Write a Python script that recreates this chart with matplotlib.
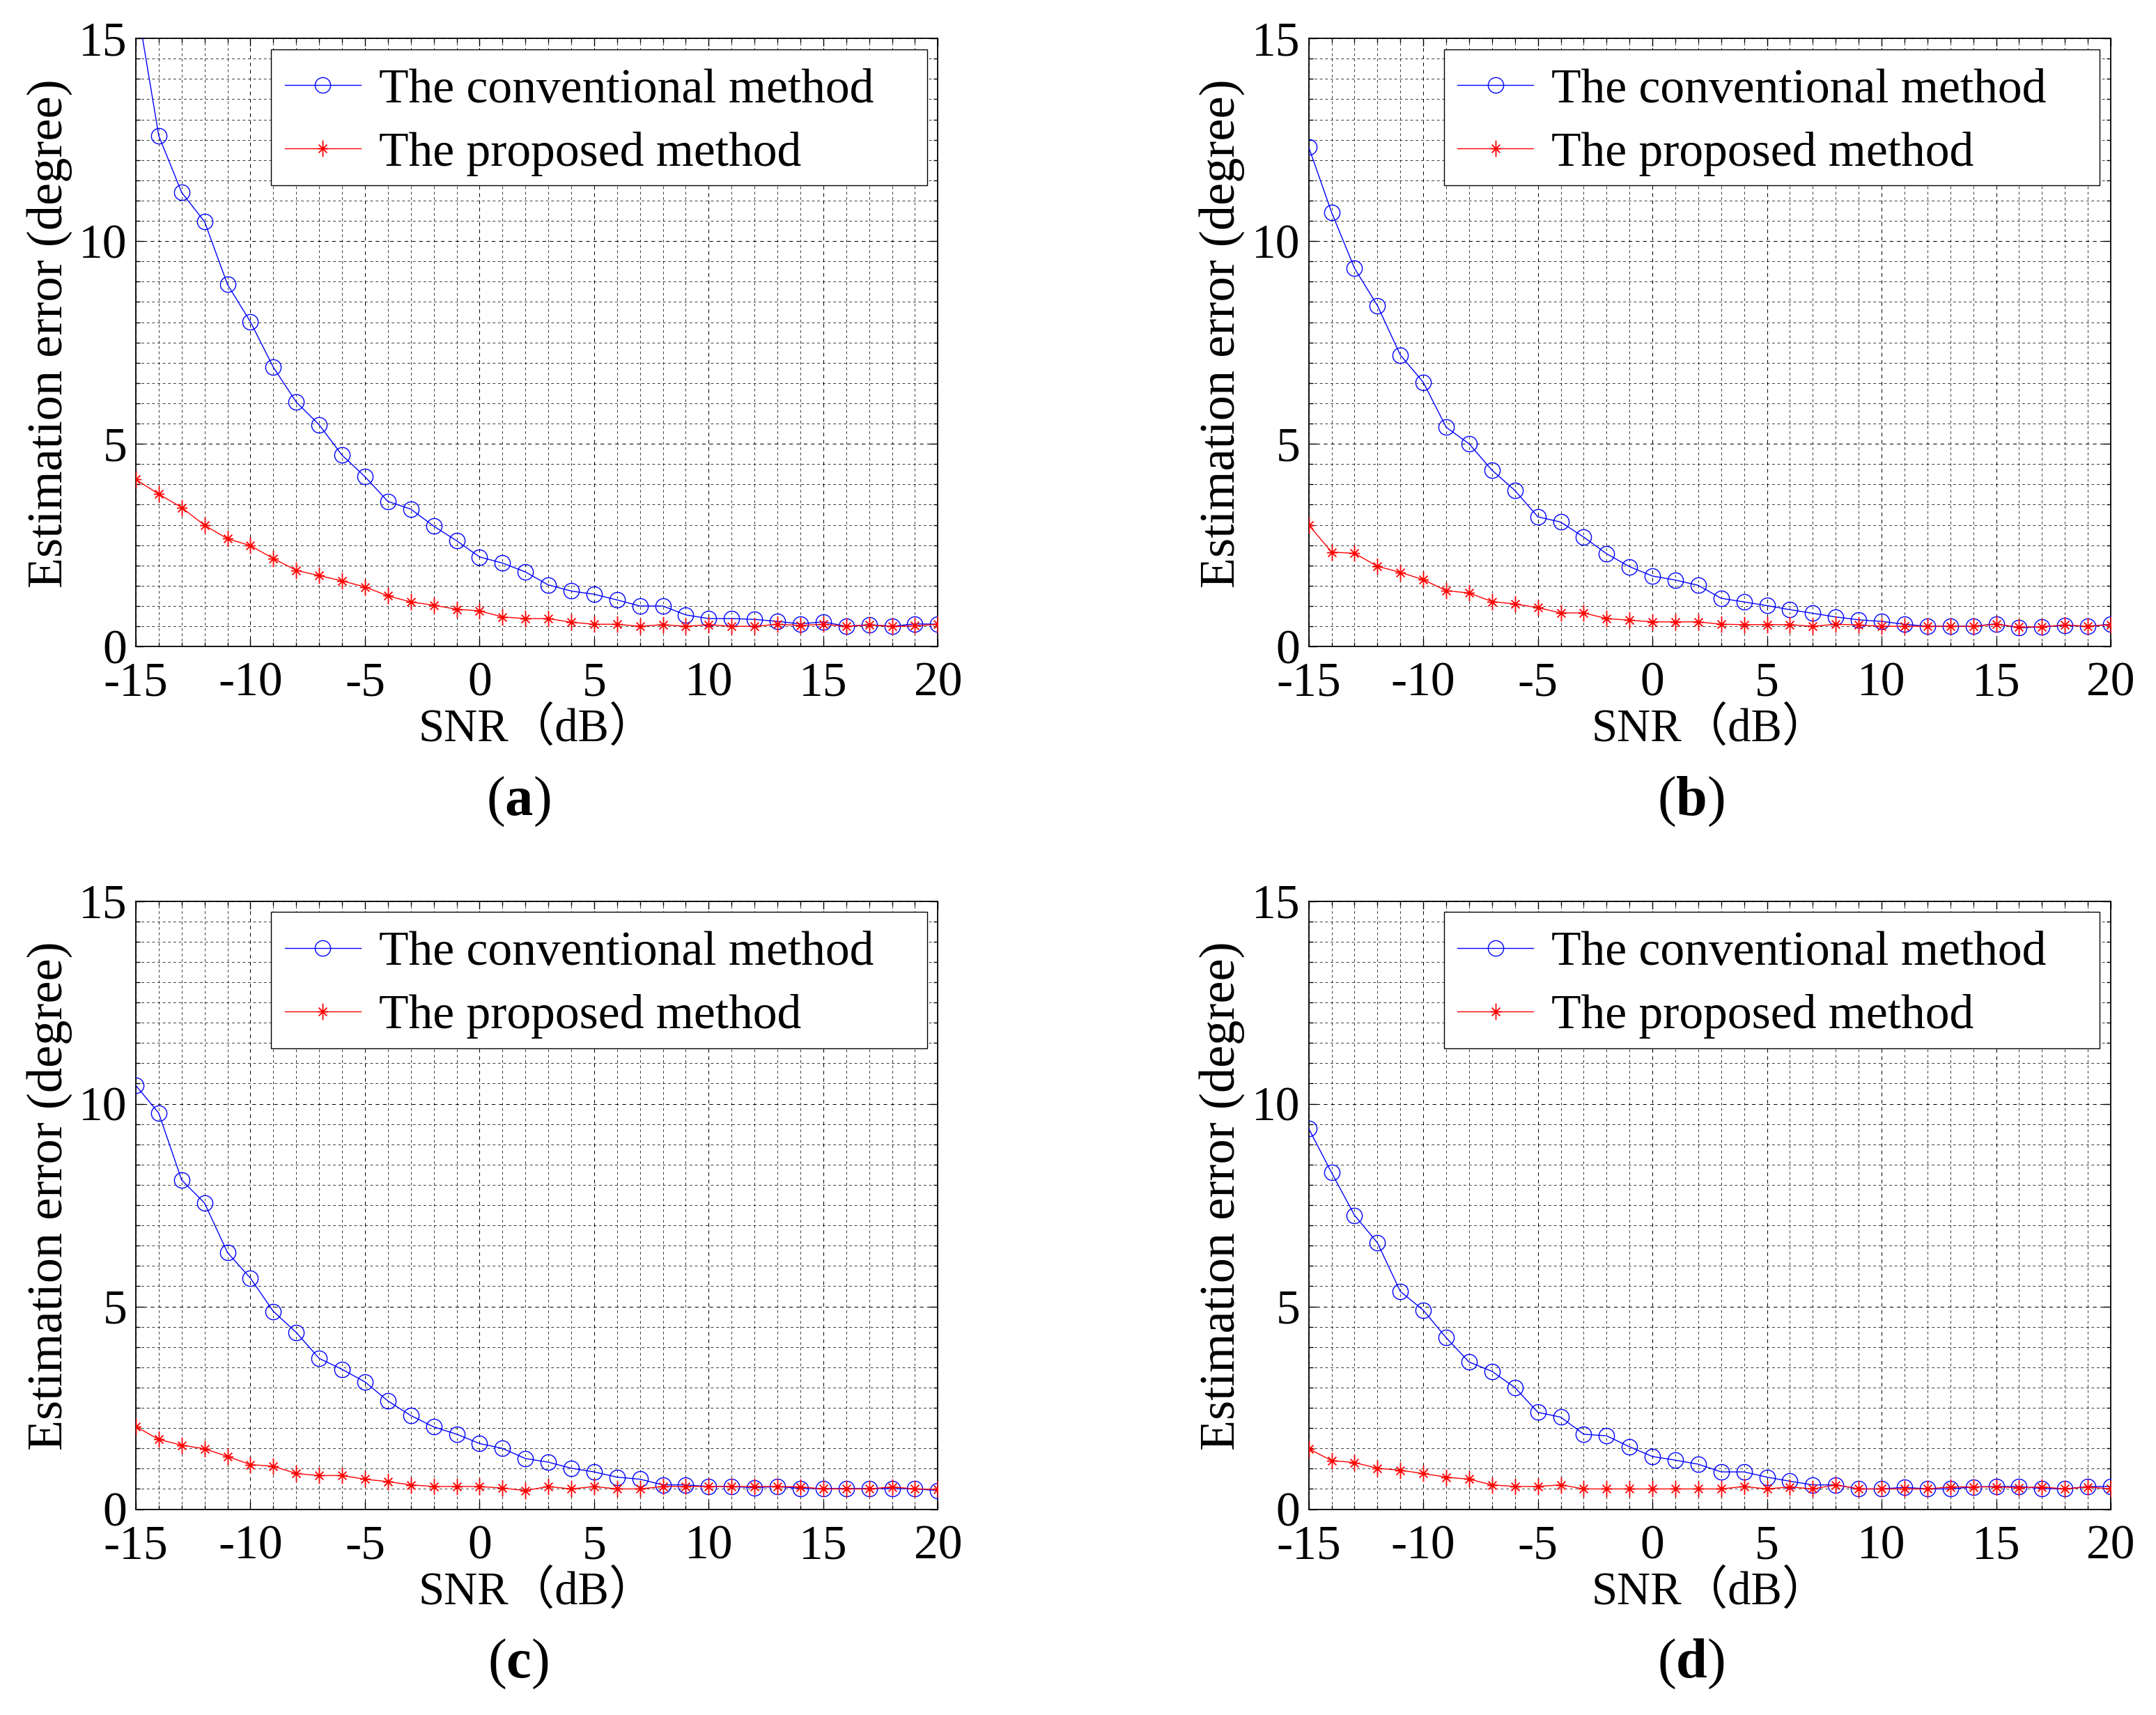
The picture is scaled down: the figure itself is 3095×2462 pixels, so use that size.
"""
Estimation error vs SNR: conventional method vs proposed method, 4 panels
"""

import numpy as np
import matplotlib
matplotlib.use('Agg')
import matplotlib.pyplot as plt
from matplotlib.ticker import MultipleLocator
from matplotlib.path import Path
from matplotlib.patches import Rectangle

plt.rcParams['font.family'] = ['Liberation Serif', 'Noto Sans CJK SC']
plt.rcParams['mathtext.fontset'] = 'custom'
plt.rcParams['mathtext.rm'] = 'Liberation Serif'
plt.rcParams['mathtext.bf'] = 'Liberation Serif:bold'
plt.rcParams['axes.unicode_minus'] = False

# SNR axis (dB)
snr = list(range(-15, 21))

# Panel (a)
conv_a = [16.0, 12.6, 11.2, 10.48, 8.93, 8.01, 6.89, 6.03, 5.47, 4.72, 4.19, 3.58,
          3.39, 2.97, 2.61, 2.21, 2.06, 1.84, 1.52, 1.37, 1.29, 1.15, 1.00, 1.00,
          0.78, 0.69, 0.69, 0.67, 0.62, 0.56, 0.61, 0.50, 0.54, 0.50, 0.56, 0.55]
prop_a = [4.12, 3.76, 3.43, 2.99, 2.66, 2.49, 2.17, 1.88, 1.75, 1.62, 1.47, 1.25,
          1.10, 1.02, 0.92, 0.88, 0.73, 0.69, 0.69, 0.60, 0.55, 0.55, 0.50, 0.54,
          0.50, 0.54, 0.50, 0.50, 0.55, 0.52, 0.55, 0.50, 0.53, 0.50, 0.51, 0.55]

# Panel (b)
conv_b = [12.32, 10.71, 9.33, 8.41, 7.19, 6.52, 5.41, 5.00, 4.35, 3.85, 3.20, 3.07,
          2.70, 2.29, 1.97, 1.74, 1.64, 1.51, 1.19, 1.10, 1.01, 0.91, 0.82, 0.73,
          0.66, 0.62, 0.55, 0.50, 0.50, 0.50, 0.56, 0.46, 0.49, 0.52, 0.50, 0.55]
prop_b = [3.00, 2.33, 2.30, 1.98, 1.83, 1.65, 1.38, 1.32, 1.11, 1.05, 0.96, 0.83,
          0.83, 0.69, 0.65, 0.61, 0.61, 0.61, 0.55, 0.54, 0.54, 0.54, 0.50, 0.55,
          0.53, 0.50, 0.50, 0.50, 0.50, 0.50, 0.55, 0.48, 0.49, 0.53, 0.50, 0.54]

# Panel (c)
conv_c = [10.45, 9.77, 8.12, 7.55, 6.33, 5.70, 4.88, 4.36, 3.72, 3.45, 3.14, 2.67,
          2.31, 2.03, 1.85, 1.62, 1.50, 1.25, 1.16, 1.01, 0.92, 0.79, 0.74, 0.60,
          0.60, 0.56, 0.56, 0.53, 0.56, 0.51, 0.51, 0.51, 0.51, 0.51, 0.50, 0.46]
prop_c = [2.04, 1.72, 1.58, 1.49, 1.30, 1.10, 1.06, 0.88, 0.83, 0.83, 0.74, 0.68,
          0.60, 0.56, 0.56, 0.56, 0.52, 0.46, 0.56, 0.50, 0.56, 0.50, 0.50, 0.56,
          0.56, 0.56, 0.56, 0.56, 0.56, 0.55, 0.50, 0.50, 0.50, 0.55, 0.50, 0.49]

# Panel (d)
conv_d = [9.39, 8.30, 7.25, 6.57, 5.37, 4.91, 4.23, 3.63, 3.40, 3.00, 2.39, 2.27,
          1.85, 1.81, 1.54, 1.30, 1.21, 1.11, 0.92, 0.92, 0.79, 0.69, 0.60, 0.60,
          0.50, 0.50, 0.54, 0.50, 0.50, 0.55, 0.56, 0.56, 0.51, 0.50, 0.56, 0.56]
prop_d = [1.49, 1.20, 1.15, 1.01, 0.96, 0.88, 0.79, 0.74, 0.60, 0.56, 0.56, 0.60,
          0.50, 0.50, 0.50, 0.50, 0.50, 0.50, 0.50, 0.56, 0.50, 0.55, 0.50, 0.60,
          0.50, 0.50, 0.50, 0.50, 0.55, 0.55, 0.55, 0.53, 0.55, 0.50, 0.55, 0.50]

panels = [
    ('a', conv_a, prop_a),
    ('b', conv_b, prop_b),
    ('c', conv_c, prop_c),
    ('d', conv_d, prop_d),
]

# axes positions [left, bottom, width, height] in figure fraction
positions = [
    [0.0630, 0.623, 0.372, 0.3546],
    [0.6070, 0.623, 0.372, 0.3546],
    [0.0630, 0.120, 0.372, 0.3546],
    [0.6070, 0.120, 0.372, 0.3546],
]

# MATLAB-like asterisk: tall vertical stroke plus a smaller plus/x
h, d = 0.32, 0.25
asterisk = Path(
    [(0, -0.5), (0, 0.5), (-h, 0), (h, 0), (-d, -d), (d, d), (-d, d), (d, -d)],
    [Path.MOVETO, Path.LINETO] * 4,
)

fig = plt.figure(figsize=(30.95, 24.62), dpi=100)

for (tag, conv, prop), pos in zip(panels, positions):
    ax = fig.add_axes(pos)
    ax.plot(snr, conv, color='blue', lw=1.0, marker='o', ms=16, mfc='none',
            mec='blue', mew=1.0, label='The conventional method', zorder=3)
    ax.plot(snr, prop, color='red', lw=1.0, marker=asterisk, ms=17, mfc='none',
            mec='red', mew=1.3, label='The proposed method', zorder=3)

    ax.set_xlim(-15, 20)
    ax.set_ylim(0, 15)
    ax.xaxis.set_major_locator(MultipleLocator(5))
    ax.xaxis.set_minor_locator(MultipleLocator(1))
    ax.yaxis.set_major_locator(MultipleLocator(5))
    ax.yaxis.set_minor_locator(MultipleLocator(0.5))

    ax.grid(which='major', color='black', lw=0.75, ls=(0, (5, 5)))
    ax.grid(which='minor', color='black', lw=0.55, ls=(0, (5, 5)))
    ax.set_axisbelow(True)

    ax.tick_params(which='both', direction='in', top=True, right=True,
                   labelsize=50, width=1.0)
    ax.tick_params(which='major', length=8)
    ax.tick_params(which='minor', length=4)
    ax.tick_params(axis='x', pad=16)
    ax.tick_params(axis='y', pad=9)
    for sp in ax.spines.values():
        sp.set_linewidth(1.3)

    ax.set_xlabel('SNR（dB）', fontsize=48, va='center')
    ax.xaxis.set_label_coords(0.50, -0.135)
    ax.set_ylabel('Estimation error (degree)', fontsize=52, va='center')
    ax.yaxis.set_label_coords(-0.108, 0.515)

    # legend box drawn separately (MATLAB style, extra room on the right)
    box = Rectangle((0.1687, 0.758), 0.8177, 0.224, transform=ax.transAxes,
                    facecolor='white', edgecolor='black', lw=1.0, zorder=4)
    ax.add_patch(box)
    leg = ax.legend(loc='upper left', bbox_to_anchor=(0.1857, 0.951),
                    borderaxespad=0, borderpad=0, fontsize=50, frameon=False,
                    handlelength=1.57, handletextpad=0.37, labelspacing=0.39)
    leg.set_zorder(5)

    ax.text(0.477, -0.255, r'($\mathbf{' + tag + r'}$)', transform=ax.transAxes,
            ha='center', va='center', fontsize=58)

plt.savefig('out.png', dpi=100)
